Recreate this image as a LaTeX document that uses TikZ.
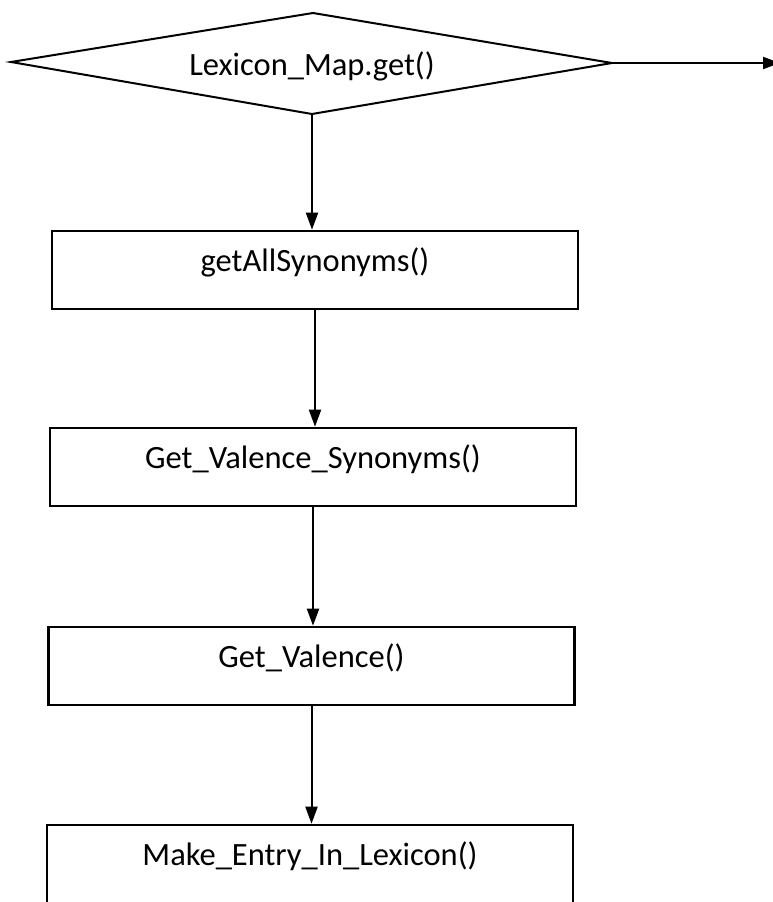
\documentclass[tikz,border=0pt]{standalone}
\usepackage{fontspec}
\setmainfont{Carlito}
\usetikzlibrary{arrows.meta}
\begin{document}
\begin{tikzpicture}[x=1pt,y=-1pt,
  procbox/.style={draw=black, line width=2.6pt, rectangle, minimum width=526pt, minimum height=78pt, inner sep=0pt, font=\fontsize{32.5}{38}\selectfont, text height=22pt, text depth=20pt},
  dectext/.style={inner sep=0pt, font=\fontsize{32.5}{38}\selectfont},
  decline/.style={draw=black, line width=2pt, line join=miter},
  flow/.style={draw=black, line width=2pt, -{Triangle[length=17pt,width=12pt]}}]
\useasboundingbox (0,0) rectangle (772,902);
% decision diamond
\coordinate (dl) at (11,62);
\coordinate (dt) at (313,13);
\coordinate (dr) at (612,63);
\coordinate (db) at (312,114);
\draw[decline] (dl) -- (dt) -- (dr) -- (db) -- cycle;
\node[dectext] (dec) at (312,66) {Lexicon\_Map.get()};
\node[procbox] (b1) at (315,270) {getAllSynonyms()};
\node[procbox] (b2) at (313,467) {Get\_Valence\_Synonyms()};
\node[procbox] (b3) at (311.5,666) {Get\_Valence()};
\node[procbox] (b4) at (310,864) {Make\_Entry\_In\_Lexicon()};
\coordinate (exit) at (780,63);
\draw[flow] (dr) -- (exit);
\draw[flow] (db) -- (db |- b1.north);
\draw[flow] (b1.south) -- (b1.south |- b2.north);
\draw[flow] (b2.south) -- (b2.south |- b3.north);
\draw[flow] (b3.south) -- (b3.south |- b4.north);
\end{tikzpicture}
\end{document}
